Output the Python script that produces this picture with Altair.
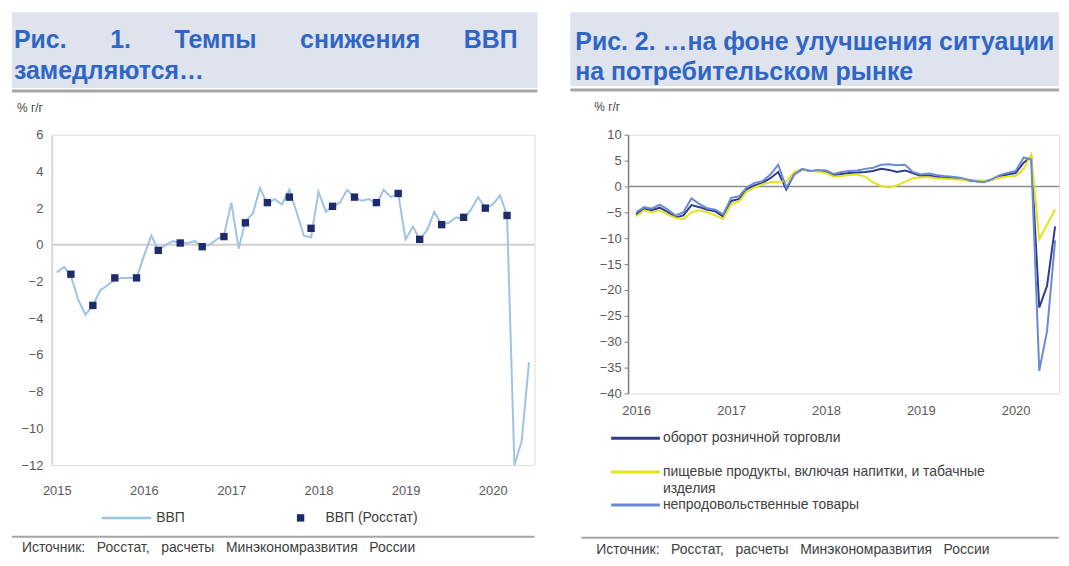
import altair as alt
import pandas as pd

FONT = "Liberation Sans"
NB = "\u00a0"

# ---------------- data ----------------
LEFT_TITLE_1 = (NB * 6 + "\u200a").join(["Рис.", "1.", "Темпы", "снижения", "ВВП"])
LEFT_TITLE_2 = "замедляются…"
RIGHT_TITLE_1 = "Рис. 2. …на фоне улучшения ситуации"
RIGHT_TITLE_2 = "на потребительском рынке"
UNIT = "% г/г"
SOURCE = (NB * 3).join(["Источник:", "Росстат,", "расчеты", "Минэкономразвития", "России"])

GDP_NAMES = ["ВВП", "ВВП (Росстат)"]
LEFT_YEARS = [2015, 2016, 2017, 2018, 2019, 2020]
LEFT_YTICKS = [-12, -10, -8, -6, -4, -2, 0, 2, 4, 6]

# monthly GDP estimate, Jan 2015 .. Jun 2020
GDP_MONTHLY = [
    -1.5, -1.2, -1.7, -3.0, -3.8, -3.3, -2.5, -2.2, -1.9, -1.8, -1.8, -1.8,
    -0.6, 0.5, -0.3, 0.0, 0.2, 0.1, 0.1, 0.2, -0.1, 0.0, 0.3, 0.5,
    2.3, -0.2, 1.3, 1.7, 3.1, 2.2, 2.5, 2.2, 3.0, 1.8, 0.5, 0.4,
    2.9, 1.8, 2.1, 2.3, 3.0, 2.6, 2.4, 2.5, 2.2, 3.0, 2.6, 2.8,
    0.3, 1.0, 0.3, 0.8, 1.8, 1.1, 1.2, 1.5, 1.4, 1.9, 2.6, 2.0,
    2.2, 2.7, 1.6, -12.0, -10.7, -6.4,
]
# quarterly GDP (Rosstat), Q1 2015 .. Q1 2020 (plotted at quarter-end month)
GDP_QUARTERLY = [
    -1.6, -3.3, -1.8, -1.8,
    -0.3, 0.1, -0.1, 0.45,
    1.2, 2.3, 2.6, 0.9,
    2.1, 2.6, 2.3, 2.8,
    0.3, 1.1, 1.5, 2.0,
    1.6,
]

RIGHT_NAMES = [
    "оборот розничной торговли",
    "пищевые продукты, включая напитки, и табачные изделия",
    "непродовольственные товары",
]
RIGHT_YEARS = [2016, 2017, 2018, 2019, 2020]
RIGHT_YTICKS = [-40, -35, -30, -25, -20, -15, -10, -5, 0, 5, 10]

# Jan 2016 .. Jun 2020
RETAIL = [
    -5.4, -4.3, -4.6, -4.1, -4.9, -6.0, -5.6, -3.6, -4.0, -4.5, -4.8, -5.8,
    -2.8, -2.4, -0.6, 0.2, 0.7, 1.6, 2.8, -0.6, 2.4, 3.3, 3.0, 3.0,
    2.8, 2.2, 2.4, 2.6, 2.7, 2.8, 3.0, 3.4, 3.2, 2.8, 3.1, 2.6,
    2.0, 2.1, 1.9, 1.7, 1.6, 1.5, 1.2, 1.0, 0.9, 1.3, 2.0, 2.3,
    2.6, 4.6, 5.8, -23.4, -19.2, -7.7,
]
FOOD = [
    -5.8, -4.6, -5.0, -4.6, -5.4, -6.1, -6.3, -5.0, -4.6, -5.0, -5.6, -6.3,
    -3.4, -2.9, -1.0, -0.2, 0.4, 0.8, 0.9, 1.0, 2.8, 3.3, 3.0, 2.9,
    2.6, 1.9, 2.0, 2.2, 2.3, 1.9, 0.8, 0.1, -0.2, 0.2, 0.9, 1.6,
    1.8, 1.8, 1.6, 1.5, 1.4, 1.3, 1.2, 1.2, 1.1, 1.3, 1.7, 1.9,
    2.0, 3.4, 6.2, -10.2, -7.4, -4.4,
]
NONFOOD = [
    -5.0, -4.0, -4.3, -3.5, -4.4, -5.6, -5.0, -2.3, -3.4, -4.2, -4.5, -5.4,
    -2.2, -1.9, -0.2, 0.7, 1.0, 2.3, 4.2, -0.2, 2.3, 3.4, 3.0, 3.2,
    3.1, 2.4, 2.8, 3.0, 3.1, 3.4, 3.6, 4.2, 4.3, 4.1, 4.2, 2.8,
    2.3, 2.5, 2.2, 2.0, 1.9, 1.7, 1.3, 1.0, 0.8, 1.4, 2.2, 2.6,
    3.0, 5.6, 5.2, -35.6, -27.9, -10.4,
]

# ---------------- styles ----------------
BAND = "#dfe3ee"
TITLE_C = "#2f66c6"
RULE_C = "#a6a6a6"
TXT = "#404040"
AXIS_TXT = "#595959"
C_GDP = "#9dc3e6"
C_GDPQ = "#1f2a6b"
RIGHT_COLORS = ["#2e3d8f", "#e3e31b", "#6b8ad6"]
TITLE_SIZE = 25


def one(text=""):
    return pd.DataFrame({"t": [text]})


def band(x0, x1, y0, y1):
    return alt.Chart(one()).mark_rect(color=BAND).encode(
        x=alt.value(x0), x2=alt.value(x1), y=alt.value(y0), y2=alt.value(y1))


def seg(x0, x1, y, color, w):
    return alt.Chart(one()).mark_rule(color=color, strokeWidth=w).encode(
        x=alt.value(x0), x2=alt.value(x1), y=alt.value(y))


def label(text, x, y, size, weight="normal", color=TXT, baseline="alphabetic"):
    return alt.Chart(one(text)).mark_text(
        align="left", baseline=baseline, font=FONT, fontSize=size,
        fontWeight=weight, color=color).encode(
        x=alt.value(x), y=alt.value(y), text="t:N")


# ---------------- left panel ----------------
gdp_m = pd.DataFrame({
    "date": pd.date_range("2015-01-01", periods=len(GDP_MONTHLY), freq="MS"),
    "v": GDP_MONTHLY})
gdp_q = pd.DataFrame({
    "date": pd.date_range("2015-03-01", periods=len(GDP_QUARTERLY), freq="3MS"),
    "v": GDP_QUARTERLY})

L_W, L_H = 485, 332
lx_scale = alt.Scale(domain=[alt.DateTime(year=2014, month=12, date=11),
                             alt.DateTime(year=2020, month=6, date=24)])
ly_scale = alt.Scale(domain=[-12, 6], nice=False)
lx = alt.X("date:T", title=None, scale=lx_scale,
           axis=alt.Axis(values=[alt.DateTime(year=y, month=1, date=1) for y in LEFT_YEARS],
                         format="%Y", domain=False, ticks=False, grid=False,
                         labelPadding=20, labelFontSize=13, labelColor=AXIS_TXT,
                         labelFont=FONT))
ly = alt.Y("v:Q", title=None, scale=ly_scale,
           axis=alt.Axis(values=LEFT_YTICKS, grid=False, ticks=False,
                         domainColor="#d9d9d9", domainWidth=2, labelPadding=9,
                         labelOverlap=False, labelFontSize=13, labelColor=AXIS_TXT,
                         labelFont=FONT))

left_zero = alt.Chart(pd.DataFrame({"v": [0]})).mark_rule(
    color="#d0d0d0", strokeWidth=2).encode(y=ly)
left_line = alt.Chart(gdp_m).mark_line(strokeWidth=2, color=C_GDP).encode(x=lx, y=ly)
left_pts = alt.Chart(gdp_q).mark_point(
    shape="square", filled=True, size=55, opacity=1, color=C_GDPQ).encode(x=lx, y=ly)

left_leg_sq = alt.Chart(one()).mark_point(
    shape="square", filled=True, size=55, opacity=1, color=C_GDPQ).encode(
    x=alt.value(250), y=alt.value(385))

left = alt.layer(
    band(-40, 488, -123, -47),
    seg(-40, 488, -44, RULE_C, 3),
    label(LEFT_TITLE_1, -38, -87, TITLE_SIZE, "bold", TITLE_C),
    label(LEFT_TITLE_2, -38, -56, TITLE_SIZE, "bold", TITLE_C),
    label(UNIT, -35, -27, 12, baseline="middle"),
    left_zero, left_line, left_pts,
    seg(50, 100, 385, C_GDP, 2.5),
    label(GDP_NAMES[0], 105, 385, 14, baseline="middle"),
    left_leg_sq,
    label(GDP_NAMES[1], 275, 385, 14, baseline="middle"),
    seg(-40, 485, 404, RULE_C, 2),
    label(SOURCE, -30, 415, 14, baseline="middle"),
).properties(width=L_W, height=L_H)

# ---------------- right panel ----------------
months_r = pd.date_range("2016-01-01", periods=len(RETAIL), freq="MS")
rdf = pd.concat([
    pd.DataFrame({"date": months_r, "v": vals, "s": name, "o": i})
    for i, (name, vals) in enumerate(zip(RIGHT_NAMES, [RETAIL, FOOD, NONFOOD]))
])

R_W, R_H = 433, 260
rx_scale = alt.Scale(domain=[alt.DateTime(year=2015, month=12, date=1),
                             alt.DateTime(year=2020, month=6, date=16)])
ry_scale = alt.Scale(domain=[-40, 10], nice=False)
rx = alt.X("date:T", title=None, scale=rx_scale,
           axis=alt.Axis(values=[alt.DateTime(year=y, month=1, date=1) for y in RIGHT_YEARS],
                         format="%Y", domain=False, ticks=False, grid=False,
                         labelPadding=11, labelFontSize=13, labelColor=AXIS_TXT,
                         labelFont=FONT))
ry = alt.Y("v:Q", title=None, scale=ry_scale,
           axis=alt.Axis(values=RIGHT_YTICKS, grid=False, ticks=True, tickSize=4,
                         tickColor="#7f7f7f", domainColor="#7f7f7f", domainWidth=1.5,
                         labelPadding=3, labelOverlap=False, labelFontSize=13,
                         labelColor=AXIS_TXT, labelFont=FONT))

right_zero = alt.Chart(pd.DataFrame({"v": [0]})).mark_rule(
    color="#8c8c8c", strokeWidth=1.5).encode(y=ry)

right_lines = alt.Chart(rdf).mark_line(strokeWidth=2).encode(
    x=rx, y=ry,
    color=alt.Color("s:N", scale=alt.Scale(domain=RIGHT_NAMES, range=RIGHT_COLORS),
                    legend=None),
    order=alt.Order("o:Q"))

long_name = RIGHT_NAMES[1]
split_at = long_name.rfind(" ")
LONG_1, LONG_2 = long_name[:split_at], long_name[split_at + 1:]

right = alt.layer(
    band(-58, 433, -123, -49),
    seg(-58, 433, -45, RULE_C, 3),
    label(RIGHT_TITLE_1, -53, -85, TITLE_SIZE, "bold", TITLE_C),
    label(RIGHT_TITLE_2, -53, -55, TITLE_SIZE, "bold", TITLE_C),
    label(UNIT, -34, -28, 12, baseline="middle"),
    right_zero, right_lines,
    seg(-17, 32, 305, RIGHT_COLORS[0], 3),
    label(RIGHT_NAMES[0], 35, 305, 14, baseline="middle"),
    seg(-17, 32, 339, RIGHT_COLORS[1], 3),
    label(LONG_1, 35, 339, 14, baseline="middle"),
    label(LONG_2, 35, 356, 14, baseline="middle"),
    seg(-17, 32, 372, RIGHT_COLORS[2], 3),
    label(RIGHT_NAMES[2], 35, 372, 14, baseline="middle"),
    seg(-47, 433, 405, RULE_C, 2),
    label(SOURCE, -32, 417, 14, baseline="middle"),
).properties(width=R_W, height=R_H)

chart = alt.hconcat(left, right, spacing=29).properties(
    padding={"left": 2, "top": 2, "right": 0, "bottom": 0}
).configure_view(stroke=None).configure(font=FONT)

chart.save("out.html", embed_options={"renderer": "svg", "actions": False})
